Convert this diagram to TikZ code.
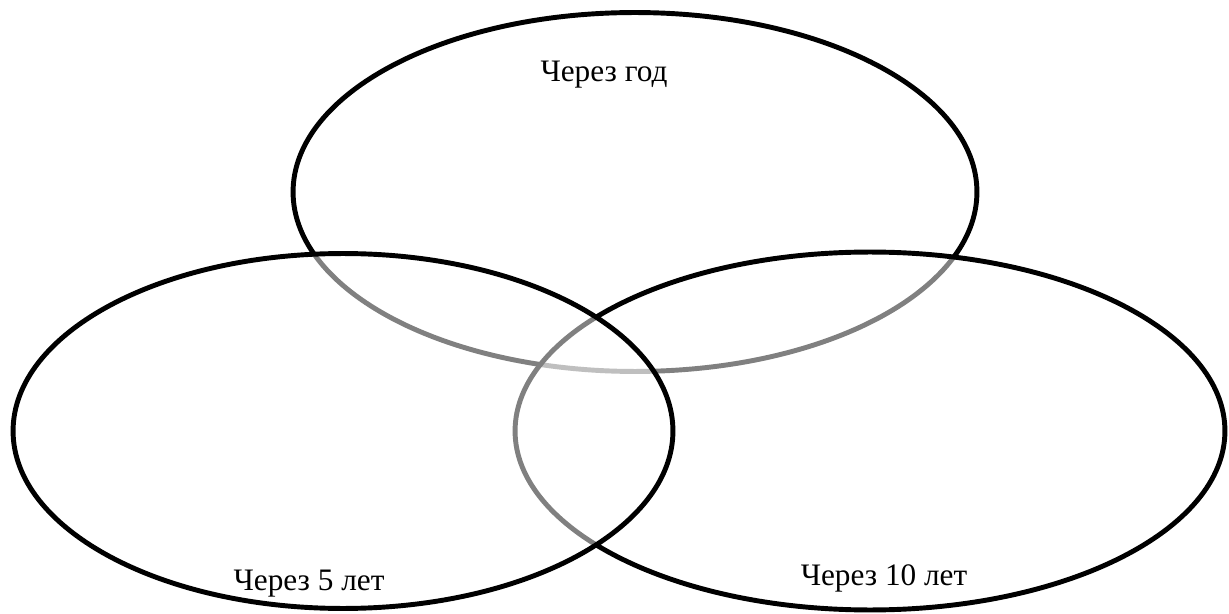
\documentclass[tikz,border=0pt]{standalone}
\usepackage{fontspec}
\setmainfont{Liberation Serif}
\usepackage{tikz}
\usetikzlibrary{shapes.geometric}

\begin{document}
\begin{tikzpicture}[
  x=0.02cm, y=-0.02cm,
  every node/.style={font=\fontsize{17.8}{20}\selectfont},
  oval/.style={ellipse,draw=black,line width=2.8pt,inner sep=0pt,
               fill=white,fill opacity=0.5,draw opacity=1},
]
\useasboundingbox (0,0) rectangle (1229,614);
% the three periods, drawn back to front
\node[oval,minimum width=13.68cm,minimum height=7.18cm] (god) at (635,192) {};
\node[oval,minimum width=14.2cm,minimum height=7.16cm] (ten) at (870,431) {};
\node[oval,minimum width=13.2cm,minimum height=7.1cm] (five) at (343,431) {};
% labels
\node (godlbl) at (604,75) {Через год};
\node (fivelbl) at (309,584) {Через 5 лет};
\node (tenlbl) at (884,578) {Через 10 лет};
\end{tikzpicture}
\end{document}
